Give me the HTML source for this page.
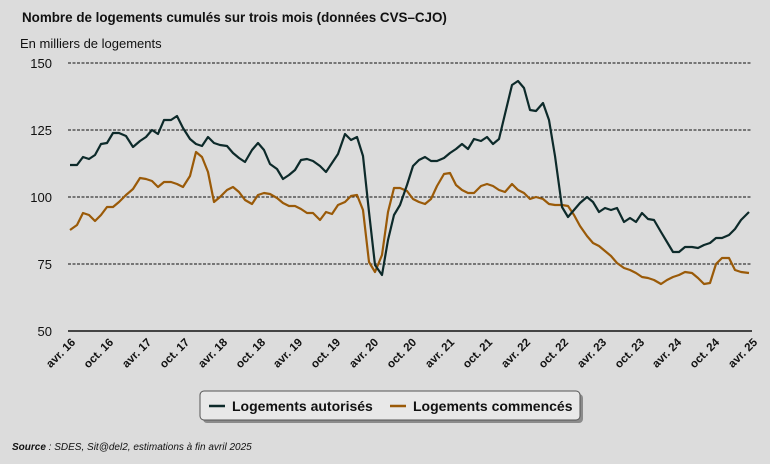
<!DOCTYPE html>
<html><head><meta charset="utf-8"><style>
body{margin:0;background:#dcdcdc;}
svg{display:block;font-family:"Liberation Sans",sans-serif;}
</style></head><body>
<svg width="770" height="464" viewBox="0 0 770 464">
<rect width="770" height="464" fill="#dcdcdc"/>
<text x="22" y="22" font-size="13.4" font-weight="bold" fill="#111">Nombre de logements cumulés sur trois mois (données CVS–CJO)</text>
<text x="20" y="48" font-size="13" fill="#111">En milliers de logements</text>
<g font-size="13" fill="#111" text-anchor="end">
<text x="52" y="68">150</text><text x="52" y="135">125</text><text x="52" y="202">100</text><text x="52" y="269">75</text><text x="52" y="336">50</text>
</g>
<g stroke="#111" stroke-width="1" stroke-dasharray="3,1.5">
<line x1="68" y1="63" x2="752" y2="63"/><line x1="68" y1="130" x2="752" y2="130"/><line x1="68" y1="197" x2="752" y2="197"/><line x1="68" y1="264" x2="752" y2="264"/>
</g>
<line x1="68" y1="331" x2="752" y2="331" stroke="#111" stroke-width="1.5"/>
<g font-size="11.5" font-weight="bold" fill="#111" text-anchor="end">
<text transform="translate(76,343) rotate(-45)">avr. 16</text>
<text transform="translate(114,343) rotate(-45)">oct. 16</text>
<text transform="translate(152,343) rotate(-45)">avr. 17</text>
<text transform="translate(190,343) rotate(-45)">oct. 17</text>
<text transform="translate(228,343) rotate(-45)">avr. 18</text>
<text transform="translate(266,343) rotate(-45)">oct. 18</text>
<text transform="translate(303,343) rotate(-45)">avr. 19</text>
<text transform="translate(341,343) rotate(-45)">oct. 19</text>
<text transform="translate(379,343) rotate(-45)">avr. 20</text>
<text transform="translate(417,343) rotate(-45)">oct. 20</text>
<text transform="translate(455,343) rotate(-45)">avr. 21</text>
<text transform="translate(493,343) rotate(-45)">oct. 21</text>
<text transform="translate(531,343) rotate(-45)">avr. 22</text>
<text transform="translate(569,343) rotate(-45)">oct. 22</text>
<text transform="translate(607,343) rotate(-45)">avr. 23</text>
<text transform="translate(645,343) rotate(-45)">oct. 23</text>
<text transform="translate(682,343) rotate(-45)">avr. 24</text>
<text transform="translate(720,343) rotate(-45)">oct. 24</text>
<text transform="translate(758,343) rotate(-45)">avr. 25</text>
</g>
<polyline fill="none" stroke="#9a5a08" stroke-width="2.2" stroke-linejoin="round" points="70,230 77,225 83,213 89,215 95,221 101,215 107,207 113,207 119,202 126,195 133,189 140,178 146,179 152,181 158,187 164,182 171,182 177,184 183,187 190,176 196,152 202,157 208,172 214,202 220,197 227,190 233,187 239,192 245,200 252,204 258,195 264,193 270,194 277,198 283,203 289,206 295,206 301,209 307,213 313,213 320,220 326,212 332,214 338,205 345,202 351,196 357,195 363,210 369,262 375,272 382,255 388,212 394,188 400,188 407,191 413,199 419,202 425,204 431,199 437,186 444,174 450,173 456,185 462,190 468,193 474,193 481,186 487,184 493,186 499,190 505,192 512,184 518,190 524,193 530,199 536,197 543,199 549,204 555,205 562,205 568,206 574,215 580,226 587,236 593,243 599,246 605,251 611,256 617,263 624,268 630,270 636,273 642,277 648,278 654,280 661,284 667,280 673,277 679,275 685,272 692,273 698,278 704,284 710,283 716,264 722,258 729,258 735,270 741,272 749,273"/>
<polyline fill="none" stroke="#0d2a2a" stroke-width="2.2" stroke-linejoin="round" points="70,165 77,165 83,157 89,159 95,155 101,144 107,143 113,133 119,133 126,136 133,147 140,141 146,137 152,130 158,134 164,120 171,120 177,116 183,128 190,139 196,144 202,146 208,137 214,143 220,145 227,146 233,153 239,158 245,162 252,150 258,143 264,150 270,164 277,169 283,179 289,175 295,170 301,160 307,159 313,161 320,166 326,172 332,163 338,154 345,134 351,140 357,137 363,156 369,212 375,265 382,275 388,240 394,215 400,205 407,185 413,166 419,160 425,157 431,161 437,161 444,158 450,153 456,149 462,144 468,149 474,139 481,141 487,137 493,144 499,139 505,114 512,85 518,81 524,88 530,110 536,111 543,103 549,120 555,156 562,207 568,217 574,210 580,203 587,197 593,202 599,212 605,208 611,210 617,208 624,222 630,218 636,222 642,213 648,219 654,220 661,232 667,242 673,252 679,252 685,247 692,247 698,248 704,245 710,243 716,238 722,238 729,235 735,229 741,220 749,212"/>
<rect x="203" y="394" width="380" height="29" rx="4" fill="#555" opacity="0.6"/>
<rect x="200" y="391" width="380" height="29" rx="4" fill="#e8e8e8" stroke="#555" stroke-width="1"/>
<line x1="209" y1="406" x2="225" y2="406" stroke="#0d2a2a" stroke-width="2.5"/>
<text x="232" y="411" font-size="14" font-weight="bold" fill="#111">Logements autorisés</text>
<line x1="390" y1="406" x2="406" y2="406" stroke="#9a5a08" stroke-width="2.5"/>
<text x="413" y="411" font-size="14" font-weight="bold" fill="#111">Logements commencés</text>
<text x="12" y="450" font-size="10" font-style="italic" fill="#111"><tspan font-weight="bold">Source</tspan> : SDES, Sit@del2, estimations à fin avril 2025</text>
</svg>
</body></html>
